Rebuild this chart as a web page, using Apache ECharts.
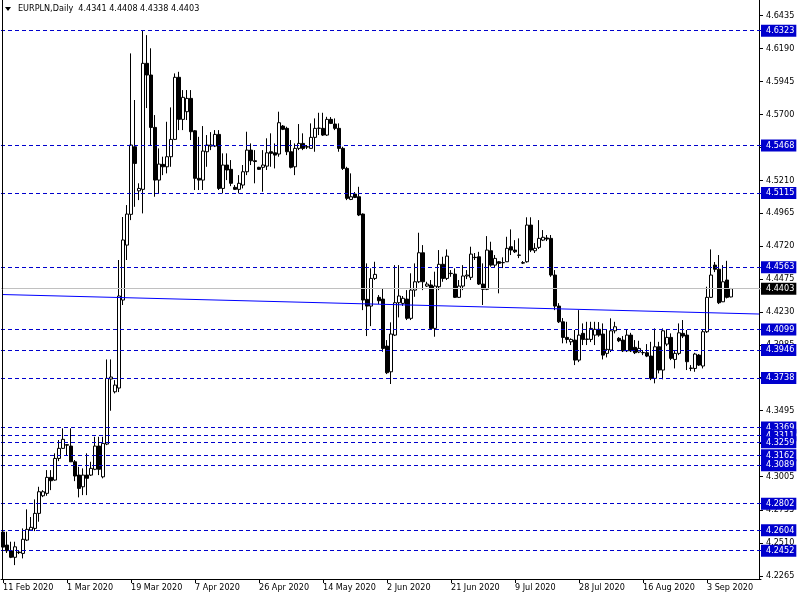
<!DOCTYPE html>
<html><head><meta charset="utf-8">
<script src="https://cdn.jsdelivr.net/npm/echarts@6/dist/echarts.min.js"></script>
<style>html,body{margin:0;padding:0;background:#fff}#c{width:800px;height:600px}</style>
</head><body><div id="c"></div>
<script>
// ---- data (EURPLN Daily) ----
const opens = [4.2591,4.2494,4.2452,4.2403,4.2442,4.2432,4.2531,4.2606,4.2618,4.2730,4.2861,4.2879,4.2998,4.2978,4.3139,4.3214,4.3241,4.3231,4.3114,4.3015,4.2928,4.3015,4.3015,4.3058,4.3231,4.3002,4.3246,4.3730,4.3635,4.3663,4.4318,4.4727,4.4956,4.5459,4.5131,4.5142,4.6080,4.5993,4.5603,4.5211,4.5328,4.5310,4.5385,4.5514,4.5976,4.5663,4.5720,4.5819,4.5578,4.5224,4.5211,4.5422,4.5464,4.5464,4.5551,4.5149,4.5323,4.5291,4.5157,4.5142,4.5174,4.5273,4.5434,4.5355,4.5306,4.5306,4.5315,4.5422,4.5414,4.5405,4.5613,4.5596,4.5422,4.5310,4.5447,4.5484,4.5459,4.5447,4.5529,4.5596,4.5596,4.5546,4.5663,4.5628,4.5596,4.5447,4.5298,4.5067,4.5107,4.5087,4.4958,4.4323,4.4273,4.4479,4.4338,4.4325,4.3975,4.3784,4.4057,4.4298,4.4293,4.4325,4.4182,4.4392,4.4454,4.4670,4.4422,4.4430,4.4107,4.4417,4.4584,4.4479,4.4517,4.4511,4.4338,4.4422,4.4497,4.4487,4.4636,4.4640,4.4437,4.4398,4.4685,4.4578,4.4603,4.4596,4.4603,4.4715,4.4690,4.4653,4.4596,4.4603,4.4876,4.4685,4.4710,4.4764,4.4780,4.4777,4.4504,4.4273,4.4156,4.4040,4.4007,4.4020,4.3871,4.4070,4.4025,4.4025,4.4057,4.4100,4.4065,4.3921,4.3946,4.4089,4.4033,4.4020,4.3940,4.4057,4.3966,4.3931,4.3926,4.3926,4.3901,4.3735,4.3970,4.3797,4.3990,4.4040,4.3876,4.3921,4.4070,4.4057,4.3809,4.3809,4.3908,4.3827,4.4082,4.4338,4.4578,4.4547,4.4305,4.4467,4.4341];
const closes = [4.2479,4.2452,4.2403,4.2481,4.2438,4.2537,4.2611,4.2626,4.2730,4.2891,4.2891,4.2998,4.2973,4.3139,4.3214,4.3281,4.3238,4.3114,4.3008,4.2916,4.3015,4.2991,4.3065,4.3231,4.3058,4.3251,4.3735,4.3745,4.3685,4.4348,4.4765,4.4958,4.5472,4.5335,4.5149,4.6080,4.5993,4.5603,4.5211,4.5330,4.5310,4.5385,4.5514,4.5976,4.5663,4.5827,4.5819,4.5571,4.5224,4.5211,4.5427,4.5472,4.5472,4.5551,4.5149,4.5323,4.5286,4.5187,4.5142,4.5187,4.5273,4.5434,4.5355,4.5349,4.5291,4.5323,4.5414,4.5410,4.5397,4.5638,4.5589,4.5422,4.5306,4.5447,4.5484,4.5447,4.5457,4.5529,4.5596,4.5598,4.5546,4.5663,4.5633,4.5596,4.5447,4.5298,4.5075,4.5087,4.5082,4.4951,4.4318,4.4273,4.4479,4.4509,4.4313,4.3958,4.3777,4.4065,4.4298,4.4348,4.4331,4.4182,4.4392,4.4454,4.4670,4.4454,4.4437,4.4107,4.4422,4.4584,4.4479,4.4645,4.4515,4.4338,4.4422,4.4497,4.4504,4.4660,4.4634,4.4437,4.4398,4.4690,4.4578,4.4628,4.4591,4.4597,4.4703,4.4690,4.4677,4.4651,4.4593,4.4876,4.4690,4.4703,4.4777,4.4785,4.4772,4.4504,4.4273,4.4156,4.4040,4.4025,4.4025,4.3871,4.4057,4.4025,4.4028,4.4107,4.4100,4.4057,4.3908,4.3951,4.4089,4.4119,4.4015,4.3940,4.4057,4.3940,4.3926,4.3958,4.3927,4.3901,4.3735,4.3970,4.3797,4.4089,4.4040,4.3884,4.3921,4.4074,4.4050,4.3859,4.3812,4.3916,4.3834,4.4082,4.4338,4.4504,4.4547,4.4298,4.4454,4.4338,4.4403];
const lows = [4.2457,4.2435,4.2397,4.2345,4.2427,4.2395,4.2524,4.2602,4.2598,4.2668,4.2851,4.2861,4.2903,4.2973,4.3119,4.3209,4.3157,4.3112,4.2970,4.2849,4.2866,4.2866,4.3008,4.3052,4.3015,4.2991,4.3238,4.3494,4.3623,4.3633,4.4281,4.4616,4.4913,4.5012,4.5062,4.4963,4.5747,4.5472,4.5087,4.5112,4.5248,4.5261,4.5310,4.5509,4.5583,4.5583,4.5658,4.5509,4.5137,4.5137,4.5137,4.5310,4.5434,4.5457,4.5137,4.5112,4.5211,4.5166,4.5137,4.5112,4.5149,4.5248,4.5323,4.5187,4.5286,4.5124,4.5286,4.5310,4.5298,4.5385,4.5583,4.5397,4.5298,4.5248,4.5434,4.5434,4.5442,4.5447,4.5422,4.5546,4.5539,4.5539,4.5628,4.5583,4.5422,4.5286,4.5062,4.5062,4.5077,4.4943,4.4243,4.4050,4.4124,4.4467,4.4288,4.3933,4.3767,4.3693,4.4050,4.4189,4.4274,4.4169,4.4169,4.4342,4.4444,4.4392,4.4415,4.4095,4.4045,4.4392,4.4454,4.4467,4.4491,4.4333,4.4333,4.4392,4.4474,4.4467,4.4616,4.4430,4.4281,4.4392,4.4566,4.4563,4.4368,4.4556,4.4601,4.4653,4.4668,4.4630,4.4586,4.4596,4.4675,4.4668,4.4698,4.4757,4.4757,4.4491,4.4243,4.4147,4.3996,4.3996,4.3983,4.3834,4.3856,4.3983,4.3983,4.4005,4.3983,4.4045,4.3876,4.3891,4.3931,4.4070,4.4005,4.3931,4.3931,4.3931,4.3916,4.3923,4.3908,4.3893,4.3722,4.3698,4.3772,4.3728,4.3975,4.3871,4.3809,4.3908,4.4035,4.3797,4.3789,4.3784,4.3827,4.3809,4.4073,4.4333,4.4526,4.4288,4.4303,4.4330,4.4338];
const highs = [4.2665,4.2593,4.2519,4.2519,4.2449,4.2618,4.2760,4.2703,4.2834,4.2928,4.2903,4.3052,4.3052,4.3177,4.3276,4.3363,4.3246,4.3363,4.3127,4.3077,4.3065,4.3177,4.3114,4.3300,4.3300,4.3300,4.3876,4.3876,4.3722,4.4616,4.4936,4.5025,4.6154,4.5807,4.5187,4.6323,4.6290,4.6192,4.5695,4.5447,4.5385,4.5645,4.5752,4.6005,4.6017,4.5881,4.5881,4.5881,4.5583,4.5533,4.5613,4.5546,4.5568,4.5583,4.5583,4.5410,4.5410,4.5360,4.5174,4.5248,4.5323,4.5571,4.5484,4.5434,4.5310,4.5434,4.5522,4.5559,4.5484,4.5720,4.5621,4.5608,4.5509,4.5484,4.5628,4.5559,4.5472,4.5633,4.5670,4.5712,4.5712,4.5682,4.5680,4.5670,4.5633,4.5459,4.5310,4.5261,4.5122,4.5161,4.4963,4.4591,4.4554,4.4603,4.4355,4.4400,4.4020,4.4152,4.4578,4.4578,4.4348,4.4392,4.4517,4.4591,4.4819,4.4727,4.4454,4.4467,4.4529,4.4690,4.4640,4.4695,4.4541,4.4554,4.4467,4.4578,4.4541,4.4715,4.4668,4.4677,4.4591,4.4794,4.4752,4.4653,4.4608,4.4636,4.4789,4.4844,4.4764,4.4777,4.4608,4.4934,4.4934,4.4742,4.4913,4.4839,4.4802,4.4802,4.4541,4.4295,4.4184,4.4156,4.4033,4.4095,4.4243,4.4144,4.4156,4.4156,4.4156,4.4154,4.4144,4.4095,4.4182,4.4156,4.4042,4.4050,4.4095,4.4074,4.4020,4.4015,4.3946,4.3990,4.4007,4.4107,4.4007,4.4107,4.4095,4.4070,4.3946,4.4144,4.4169,4.4095,4.3834,4.3925,4.3916,4.4095,4.4417,4.4695,4.4601,4.4653,4.4578,4.4610,4.4408];
const levels = [4.6323,4.5468,4.5115,4.4563,4.4099,4.3946,4.3738,4.3369,4.3311,4.3259,4.3162,4.3089,4.2802,4.2604,4.2452];
const bidPrice = 4.4403;
const trendStart = 4.4359, trendEnd = 4.4214; // trendline values at first / last category
const yTicks = [4.6435,4.6190,4.5945,4.5700,4.5455,4.5210,4.4965,4.4720,4.4475,4.4230,4.3985,4.3740,4.3495,4.3250,4.3005,4.2755,4.2510,4.2265];
const dateLabels = ['11 Feb 2020','1 Mar 2020','19 Mar 2020','7 Apr 2020','26 Apr 2020','14 May 2020','2 Jun 2020','21 Jun 2020','9 Jul 2020','28 Jul 2020','16 Aug 2020','3 Sep 2020'];
const header = 'EURPLN,Daily  4.4341 4.4408 4.4338 4.4403';

// ---- categories: trading days (Sun-Fri) from 11 Feb 2020, with empty right shift ----
const MON = ['Jan','Feb','Mar','Apr','May','Jun','Jul','Aug','Sep','Oct','Nov','Dec'];
const cats = [];
let d = new Date(Date.UTC(2020,1,11));
while (cats.length < 190) {
  if (d.getUTCDay() !== 6) cats.push(d.getUTCDate()+' '+MON[d.getUTCMonth()]+' '+d.getUTCFullYear());
  d = new Date(d.getTime()+86400000);
}
const candles = opens.map((o,i)=>[o, closes[i], lows[i], highs[i]]);

const FONT = '"DejaVu Sans Condensed","DejaVu Sans",sans-serif';
const Y_MIN = 4.22415, Y_MAX = 4.65515;
const isTick = (idx, val) => dateLabels.indexOf(val) >= 0;

const lineData = levels.map(v => ({yAxis: v, lineStyle:{color:'#0000cd', type:[4,3], width:1}}));
lineData.push({yAxis: bidPrice, lineStyle:{color:'#c0c0c0', type:'solid', width:1}});
lineData.push([
  {coord:[cats[0], trendStart], lineStyle:{color:'#0000ff', type:'solid', width:1}},
  {coord:[cats[189], trendEnd]}
]);

function rightAxis(values, opts, z) {
  return {
    type:'value', position:'right', offset:-2, min:Y_MIN, max:Y_MAX, z:z,
    axisLine:{show:false}, axisTick:{show:false}, splitLine:{show:false},
    axisLabel:Object.assign({show:true, customValues:values, formatter:v=>v.toFixed(4), fontSize:9,
      fontFamily:FONT, showMinLabel:true, showMaxLabel:true, hideOverlap:false}, opts)
  };
}
const axisMain = rightAxis(yTicks, {margin:7, color:'#000'}, 1);
axisMain.axisLine = {show:true, lineStyle:{color:'#000', width:1}};
axisMain.axisTick = {show:true, customValues:yTicks, length:4, lineStyle:{color:'#000'}};
const axisLevels = rightAxis(levels, {margin:2, color:'#fff', backgroundColor:'#0000cd', padding:[2,2,1,5], lineHeight:9}, 2);
const axisBid = rightAxis([bidPrice], {margin:2, color:'#fff', backgroundColor:'#000', padding:[2,2,1,5], lineHeight:9}, 3);

const chart = echarts.init(document.getElementById('c'), null, {renderer:'canvas'});
chart.setOption({
  animation:false,
  backgroundColor:'#fff',
  textStyle:{fontFamily:FONT},
  graphic:[
    {type:'polygon', shape:{points:[[5,7],[11,7],[8,11]]}, style:{fill:'#000'}, z:10},
    {type:'text', left:18, top:4, style:{text:header, fontSize:9, fontFamily:FONT, fill:'#000'}, z:10},
    {type:'line', shape:{x1:2.5,y1:0,x2:2.5,y2:579}, style:{stroke:'#000', lineWidth:1}, z:10}
  ],
  grid:{left:1, right:39, top:0, bottom:21, containLabel:false, outerBoundsMode:'none'},
  xAxis:{
    type:'category', data:cats, boundaryGap:true,
    axisLine:{show:true, lineStyle:{color:'#000', width:1}},
    axisTick:{show:true, interval:isTick, alignWithLabel:true, length:4, lineStyle:{color:'#000'}},
    axisLabel:{show:true, interval:isTick, align:'left', margin:4, fontSize:9, color:'#000', fontFamily:FONT, hideOverlap:false},
    splitLine:{show:false}
  },
  yAxis:[axisMain, axisLevels, axisBid],
  series:[
    {
      type:'line', data:[], z:1, silent:true,
      markLine:{silent:true, precision:4, symbol:['none','none'], animation:false, label:{show:false}, data:lineData}
    },
    {
      type:'candlestick', data:candles, barWidth:3, z:2,
      itemStyle:{color:'#fff', color0:'#000', borderColor:'#000', borderColor0:'#000', borderWidth:1}
    }
  ]
});
</script></body></html>
